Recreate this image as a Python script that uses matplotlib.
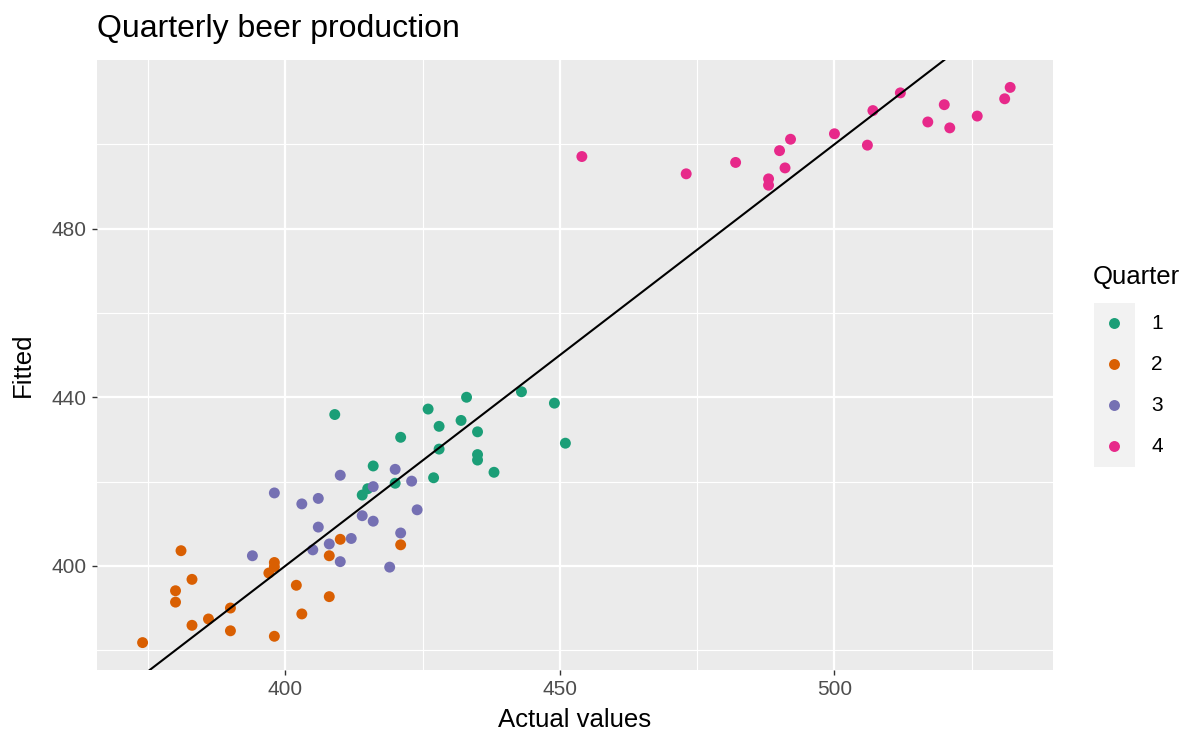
import matplotlib
matplotlib.use("Agg")
import matplotlib.pyplot as plt

plt.rcParams['font.family'] = ['Liberation Sans', 'DejaVu Sans']

title = "Quarterly beer production"
quarters = ["1", "2", "3", "4"]
colors = ["#1B9E77", "#D95F02", "#7570B3", "#E7298A"]

q1_actual = [409, 426, 433, 443, 449, 451, 428, 432, 435, 421, 428, 435, 435, 438, 427, 416, 420, 415, 414]
q1_fitted = [435.9, 437.2, 440.0, 441.3, 438.6, 429.1, 433.1, 434.5, 431.8, 430.5, 427.7, 426.4, 425.1, 422.2, 420.9, 423.7, 419.6, 418.3, 416.8]

q2_actual = [374, 381, 383, 380, 380, 383, 386, 390, 390, 398, 398, 398, 397, 402, 403, 408, 408, 410, 421]
q2_fitted = [381.8, 403.6, 396.8, 394.1, 391.4, 385.9, 387.4, 390.0, 384.6, 383.3, 400.8, 399.8, 398.3, 395.4, 388.6, 392.7, 402.4, 406.3, 405.0]

q3_actual = [394, 398, 403, 406, 410, 406, 405, 408, 410, 412, 414, 416, 416, 419, 420, 421, 423, 424]
q3_fitted = [402.4, 417.3, 414.7, 416.0, 421.5, 409.2, 403.8, 405.2, 401.0, 406.5, 411.9, 410.6, 418.8, 399.7, 422.9, 407.8, 420.1, 413.3]

q4_actual = [454, 473, 482, 488, 488, 491, 490, 492, 500, 506, 507, 512, 517, 520, 521, 526, 531, 532]
q4_fitted = [497.1, 493.0, 495.7, 491.8, 490.3, 494.4, 498.5, 501.2, 502.5, 499.8, 508.0, 512.2, 505.3, 509.4, 503.9, 506.7, 510.8, 513.5]

x_major = [400, 450, 500]
x_minor = [375, 425, 475, 525]
y_major = [400, 440, 480]
y_minor = [380, 420, 460, 500]

W, H = 1186, 731
fig = plt.figure(figsize=(W / 100, H / 100), dpi=100)
L, R, T, B = 97, 1053, 60, 670
ax = fig.add_axes([L / W, 1 - B / H, (R - L) / W, (B - T) / H])
ax.set_facecolor("#EBEBEB")
for s in ax.spines.values():
    s.set_visible(False)

ax.set_xlim(365.7, 539.8)
ax.set_ylim(375.3, 520.0)
ax.set_xticks(x_major)
ax.set_xticks(x_minor, minor=True)
ax.set_yticks(y_major)
ax.set_yticks(y_minor, minor=True)
ax.grid(which="major", color="white", linewidth=1.6, zorder=0)
ax.grid(which="minor", color="white", linewidth=0.8, zorder=0)
ax.set_axisbelow(True)
ax.tick_params(which="major", length=3.8, width=1.0, color="#333333",
               labelsize=15, labelcolor="#4D4D4D", pad=3.5)
ax.tick_params(which="minor", length=0)

series = [(q1_actual, q1_fitted), (q2_actual, q2_fitted), (q3_actual, q3_fitted), (q4_actual, q4_fitted)]
for (xa, yf), c in zip(series, colors):
    ax.scatter(xa, yf, s=62, color=c, edgecolors="none", zorder=3)

ax.axline((400, 400), slope=1, color="black", linewidth=1.5, zorder=4)

fig.text((L + R) / 2 / W, 1 - 720 / H, "Actual values", fontsize=18.5, color="black",
         ha="center", va="center")
fig.text(23 / W, 1 - (T + B) / 2 / H, "Fitted", fontsize=18.5, color="black",
         ha="center", va="center", rotation=90)
fig.text(L / W, 1 - 29 / H, title, fontsize=23, color="black", ha="left", va="center")

# legend
fig.text(1093 / W, 1 - 277 / H, "Quarter", fontsize=18.5, ha="left", va="center")
lax = fig.add_axes([1094 / W, 1 - 467 / H, 41 / W, 164 / H])
lax.set_facecolor("#F2F2F2")
lax.set_xlim(0, 1)
lax.set_ylim(0, 4)
lax.set_xticks([])
lax.set_yticks([])
for s in lax.spines.values():
    s.set_visible(False)
for i, (q, c) in enumerate(zip(quarters, colors)):
    yy = 3.5 - i
    lax.scatter([0.5], [yy], s=62, color=c, edgecolors="none", clip_on=False)
    lax.text(1.4, yy, q, fontsize=15, ha="left", va="center", color="black")

fig.savefig("out.png", dpi=100)
